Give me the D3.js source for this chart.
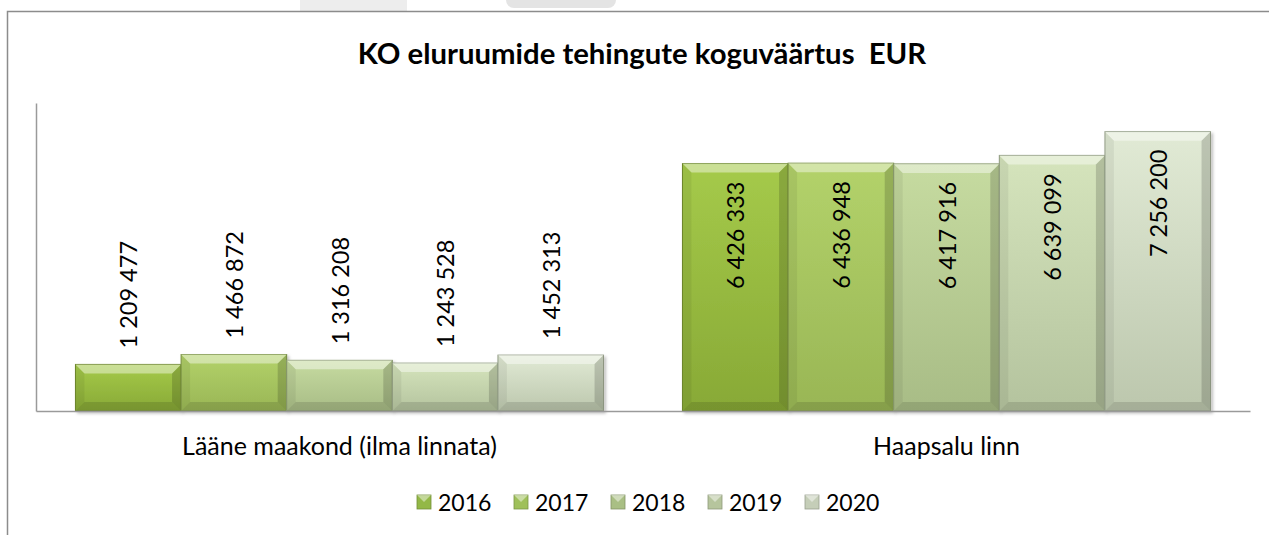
<!DOCTYPE html>
<html><head><meta charset="utf-8">
<script src="https://cdn.jsdelivr.net/npm/d3@7"></script>
<style>
html,body{margin:0;padding:0;background:#fff;}
svg{display:block;}
text{font-family:Lato,"Open Sans",sans-serif;fill:#000;}
</style></head>
<body><div id="chart"></div>
<script>
// ---- data ----
const title = "KO eluruumide tehingute koguväärtus\u00a0 EUR";
const categories = ["Lääne maakond (ilma linnata)", "Haapsalu linn"];
const years = ["2016", "2017", "2018", "2019", "2020"];
const values2016 = [1209477, 6426333];
const values2017 = [1466872, 6436948];
const values2018 = [1316208, 6417916];
const values2019 = [1243528, 6639099];
const values2020 = [1452313, 7256200];
const seriesValues = [values2016, values2017, values2018, values2019, values2020];
const yMax = 8000000;

// ---- styling ----
const barTop = ["#a5ca4a", "#b3d26a", "#c6dba0", "#d5e4bc", "#e1ead5"];
const barBottom = ["#88a936", "#99b655", "#a8bc86", "#b4c39e", "#bcc7ad"];
const swatch = ["#93b846", "#9fc05a", "#a9bf84", "#b6c59d", "#c5ceb8"];

const W = 1269, H = 535;
const svg = d3.select("#chart").append("svg").attr("width", W).attr("height", H);
const defs = svg.append("defs");

svg.append("rect").attr("width", W).attr("height", H).attr("fill", "#fff");

// faint background artifacts above the frame
svg.append("rect").attr("x", 300).attr("y", 0).attr("width", 107).attr("height", 11).attr("fill", "#ededed");
svg.append("rect").attr("x", 506).attr("y", -8).attr("width", 110).attr("height", 16).attr("rx", 8).attr("fill", "#e4e4e4");

// frame
svg.append("path").attr("d", `M7.5,${H} L7.5,11.5 L${W},11.5`).attr("fill", "none").attr("stroke", "#8c8c8c").attr("stroke-width", 1.5);

const plot = {left: 36, right: 1250, top: 103, bottom: 411};

const x0 = d3.scaleBand().domain(categories).range([plot.left, plot.right]).paddingInner(0.13).paddingOuter(0.065);
const x1 = d3.scaleBand().domain(years).range([0, x0.bandwidth()]).padding(0);
const y = d3.scaleLinear().domain([0, yMax]).range([plot.bottom, plot.top]);

const fmt = d3.formatLocale({decimal: ",", thousands: "\u00a0", grouping: [3], currency: ["", ""]}).format(",d");

// gradients
years.forEach((yr, i) => {
  const g = defs.append("linearGradient").attr("id", "g" + yr).attr("x1", 0).attr("y1", 0).attr("x2", 0).attr("y2", 1);
  g.append("stop").attr("offset", 0).attr("stop-color", barTop[i]);
  g.append("stop").attr("offset", 1).attr("stop-color", barBottom[i]);
});
const sh = defs.append("filter").attr("id", "shadow").attr("x", "-10%").attr("y", "-10%").attr("width", "130%").attr("height", "130%");
sh.append("feDropShadow").attr("dx", 2).attr("dy", 2).attr("stdDeviation", 1.5).attr("flood-color", "#000").attr("flood-opacity", 0.25);

// axes
const yAxis = svg.append("g").attr("transform", `translate(${plot.left},0)`).call(d3.axisLeft(y).tickValues([]).tickSizeOuter(0));
yAxis.select(".domain").attr("stroke", "#9a9a9a").attr("stroke-width", 1.5);

// bars
const data = [];
categories.forEach((c, ci) => years.forEach((yr, si) => data.push({cat: c, year: yr, si, value: seriesValues[si][ci]})));

const bars = svg.append("g").selectAll("g").data(data).join("g")
  .attr("transform", d => `translate(${x0(d.cat) + x1(d.year)},${y(d.value)})`);

bars.each(function(d) {
  const g = d3.select(this);
  const w = x1.bandwidth(), h = plot.bottom - y(d.value);
  const b = Math.min(9, h / 3);
  g.append("rect").attr("width", w).attr("height", h).attr("fill", `url(#g${d.year})`)
    .attr("stroke", d3.color(barBottom[d.si]).darker(0.6)).attr("stroke-width", 1).attr("filter", "url(#shadow)");
  g.append("path").attr("d", `M0,0 L${w},0 L${w - b},${b} L${b},${b} Z`).attr("fill", "#fff").attr("opacity", 0.42);
  g.append("path").attr("d", `M0,0 L${b},${b} L${b},${h - b} L0,${h} Z`).attr("fill", "#000").attr("opacity", 0.06);
  g.append("path").attr("d", `M${w},0 L${w - b},${b} L${w - b},${h - b} L${w},${h} Z`).attr("fill", "#000").attr("opacity", 0.16);
  g.append("path").attr("d", `M0,${h} L${b},${h - b} L${w - b},${h - b} L${w},${h} Z`).attr("fill", "#000").attr("opacity", 0.12);
});

// x axis
const xAxis = svg.append("g").attr("transform", `translate(0,${plot.bottom})`).call(d3.axisBottom(x0).tickSize(0).tickSizeOuter(0).tickPadding(26));
xAxis.select(".domain").attr("stroke", "#9a9a9a").attr("stroke-width", 1.5);
xAxis.selectAll("text").style("font-family", "Lato, sans-serif").style("font-size", "25px").attr("fill", "#000");

// labels
const labelSize = 23.5;
bars.append("text")
  .attr("font-size", labelSize + "px")
  .attr("dominant-baseline", "central")
  .text(d => fmt(d.value))
  .each(function(d) {
    const t = d3.select(this);
    const len = this.getComputedTextLength();
    const w = x1.bandwidth();
    const space = y(d.value) - plot.top;
    let ty, anchor;
    if (space > len + 20) { ty = -16; anchor = "start"; }
    else { ty = 18; anchor = "end"; }
    t.attr("text-anchor", anchor).attr("transform", `translate(${w / 2},${ty}) rotate(-90)`);
  });

// title
svg.append("text").attr("x", 642).attr("y", 64).attr("text-anchor", "middle")
  .attr("font-size", "29.3px").attr("font-weight", "bold").text(title);

// legend
const legStep = 97, legX = 417, legY = 502;
const leg = svg.append("g").selectAll("g").data(years).join("g")
  .attr("transform", (d, i) => `translate(${legX + i * legStep},${legY})`);
leg.append("rect").attr("x", 0).attr("y", -7).attr("width", 14).attr("height", 14)
  .attr("fill", (d, i) => swatch[i]).attr("stroke", (d, i) => d3.color(swatch[i]).darker(0.7)).attr("stroke-width", 0.8);
leg.append("path").attr("d", "M0,-7 L14,-7 L7,0 Z").attr("fill", "#fff").attr("opacity", 0.45);
leg.append("text").attr("x", 21).attr("y", 0).attr("dominant-baseline", "central")
  .attr("font-size", "23px").text(d => d);
</script></body></html>
